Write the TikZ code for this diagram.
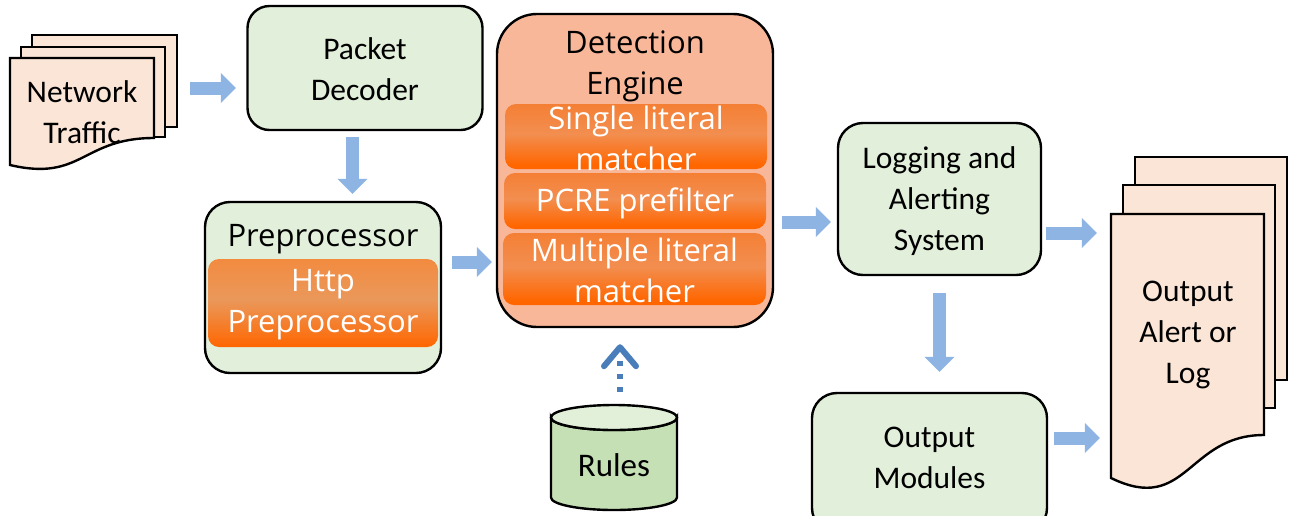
\documentclass[tikz,border=0pt]{standalone}
\usepackage{fontspec}
\setmainfont{Carlito}
\newfontfamily\clearfamily{Open Sans}
\usetikzlibrary{arrows.meta}

\definecolor{boxgreen}{HTML}{E2EFDA}
\definecolor{docfill}{HTML}{FBE5D6}
\definecolor{engfill}{HTML}{F9B79A}
\definecolor{flowblue}{HTML}{8EB4E3}
\definecolor{linkblue}{HTML}{4A7EBB}
\definecolor{cylbody}{HTML}{C5E0B4}
\definecolor{cyltop}{HTML}{E2F0D9}
\definecolor{orT}{HTML}{F4883A}
\definecolor{orM}{HTML}{EA985B}
\definecolor{orB}{HTML}{FF6600}
\definecolor{mtT}{HTML}{F57B2C}
\definecolor{mtM}{HTML}{F28E50}
\definecolor{mtB}{HTML}{FF6600}

% orange bars: strong orange at the bottom, lighter band in the middle
\pgfdeclareverticalshading{orgshade}{100bp}{color(0bp)=(orB); color(25bp)=(orB); color(52bp)=(orM); color(80bp)=(orT); color(100bp)=(orT)}
\pgfdeclareverticalshading{matchshade}{100bp}{color(0bp)=(mtB); color(28bp)=(mtB); color(52bp)=(mtM); color(82bp)=(mtT); color(100bp)=(mtT)}

\newcommand\calibrisize{\fontsize{31.5}{41}\selectfont}
\newcommand\clearsize{\clearfamily\fontsize{31}{41}\selectfont}

\tikzset{
  outline/.style={draw=black, line width=2.4pt},
  greenbox/.style={outline, fill=boxgreen, rounded corners=22pt, inner sep=0pt},
  orangebar/.style={draw=none, shade, shading=orgshade, rounded corners=11pt, inner sep=0pt},
  matchbar/.style={orangebar, shading=matchshade},
  docpage/.style={outline, fill=docfill, line join=miter},
  calibritxt/.style={font=\calibrisize, align=center, text=black, inner sep=0pt},
  cleartxt/.style={font=\clearsize, align=center, inner sep=0pt},
  whitetxt/.style={cleartxt, text=white},
  flow/.style={draw=flowblue, line width=13pt, -{Triangle[length=15pt,width=30pt,line width=0pt]}},
  rulelink/.style={draw=linkblue, line width=6pt},
}

\begin{document}
\begin{tikzpicture}[x=1pt, y=-1pt]
\path[use as bounding box, clip] (0,0) rectangle (1289,515);
\fill[white] (0,0) rectangle (1289,515);

% ---------- network traffic (stack of pages) ----------
\draw[docpage] (32,35) rectangle (177,127);
\draw[docpage] (21,47) rectangle (165,137);
\draw[docpage] (10,58) -- (154,58) -- (154,138) .. controls (82,138) and (82,182) .. (10,165) -- cycle;
\node[calibritxt] (traffic) at (82,112) {Network\\Traffic};
\node[minimum width=167pt, minimum height=92pt, inner sep=0pt] (trafficstack) at (93.5,81) {};

% ---------- packet decoder ----------
\node[greenbox, minimum width=235pt, minimum height=124pt] (decoder) at (365,68) {};
\node[calibritxt] (decodertxt) at (365,69) {Packet\\Decoder};

% ---------- preprocessor ----------
\node[greenbox, rounded corners=25pt, minimum width=236pt, minimum height=171pt] (preproc) at (323,287.5) {};
\node[cleartxt] (preproctxt) at (323,239) {Preprocessor};
\node[orangebar, minimum width=230pt, minimum height=88pt] (http) at (323,303) {};
\node[whitetxt] (httptxt) at (323,305) {Http\\Preprocessor};

% ---------- detection engine ----------
\node[outline, fill=engfill, rounded corners=40pt, minimum width=276pt, minimum height=313pt, inner sep=0pt] (engine) at (635,170.5) {};
\node[cleartxt] (enginetxt) at (635,66) {Detection\\Engine};
\node[matchbar, minimum width=262pt, minimum height=65pt] (single) at (636,136.5) {};
\node[whitetxt] (singletxt) at (636,138) {Single literal\\matcher};
\node[matchbar, minimum width=262pt, minimum height=56pt] (pcre) at (635,201) {};
\node[whitetxt] (pcretxt) at (635,203) {PCRE prefilter};
\node[matchbar, minimum width=263pt, minimum height=72pt] (multi) at (634.5,269) {};
\node[whitetxt] (multitxt) at (634.5,270) {Multiple literal\\matcher};

% ---------- rules database ----------
\draw[outline, fill=cylbody] (551,417.5) -- (551,497.5)
  arc[start angle=180, end angle=0, x radius=63, y radius=12.5] -- (677,417.5)
  arc[start angle=0, end angle=180, x radius=63, y radius=12.5] -- cycle;
\draw[outline, fill=cyltop] (614,417.5) ellipse[x radius=63, y radius=12.5];
\node[minimum width=126pt, minimum height=105pt, inner sep=0pt] (rules) at (614,457.5) {};
\node[calibritxt, font=\fontsize{33}{41}\selectfont] (rulestxt) at (614,465) {Rules};

% ---------- logging and alerting ----------
\node[greenbox, rounded corners=25pt, minimum width=203pt, minimum height=152pt] (logging) at (939.5,199) {};
\node[calibritxt] (loggingtxt) at (939.5,201) {Logging and\\Alerting\\System};

% ---------- output modules ----------
\node[greenbox, rounded corners=25pt, minimum width=235pt, minimum height=140pt] (modules) at (929.5,463) {};
\node[calibritxt] (modulestxt) at (929.5,458) {Output\\Modules};

% ---------- output alert / log (stack of pages) ----------
\draw[docpage] (1135,157) rectangle (1287,380);
\draw[docpage] (1123,185) rectangle (1275,408);
\draw[docpage] (1111,214) -- (1264,214) -- (1264,435) .. controls (1187,435) and (1187,515) .. (1111,478) -- cycle;
\node[calibritxt] (alerttxt) at (1188,335) {Output\\Alert or\\Log};
\node[minimum width=153pt, minimum height=264pt, inner sep=0pt] (alertstack) at (1187.5,346) {};

% ---------- flow arrows ----------
\draw[flow, shorten <=13pt, shorten >=10.5pt] (trafficstack.east |- 0,88) -- (decoder.west |- 0,88);
\draw[flow, shorten <=6pt, shorten >=7pt] (decoder.south -| 352.5,0) -- (preproc.north -| 352.5,0);
\draw[flow, shorten <=10pt, shorten >=4pt] (preproc.east |- 0,262) -- (engine.west |- 0,262);
\draw[flow, shorten <=8pt, shorten >=6pt] (engine.east |- 0,222) -- (logging.west |- 0,222);
\draw[flow, shorten <=17pt, shorten >=20pt] (logging.south) -- (logging.south |- modules.north);
\draw[flow, shorten <=4pt, shorten >=14pt] (logging.east |- 0,233) -- (alertstack.west |- 0,233);
\draw[flow, shorten <=6pt, shorten >=11pt] (modules.east |- 0,438) -- (alertstack.west |- 0,438);

% ---------- rules feed the engine (dotted, open head) ----------
\draw[rulelink, dash pattern=on 5pt off 8pt, shorten <=13pt, shorten >=33pt] (rules.north -| 620,0) -- (engine.south -| 620,0);
\draw[rulelink, line cap=round, line join=round] (engine.south -| 620,0) ++(-16,38) -- ++(16,-19) -- ++(16,19);
\end{tikzpicture}
\end{document}
